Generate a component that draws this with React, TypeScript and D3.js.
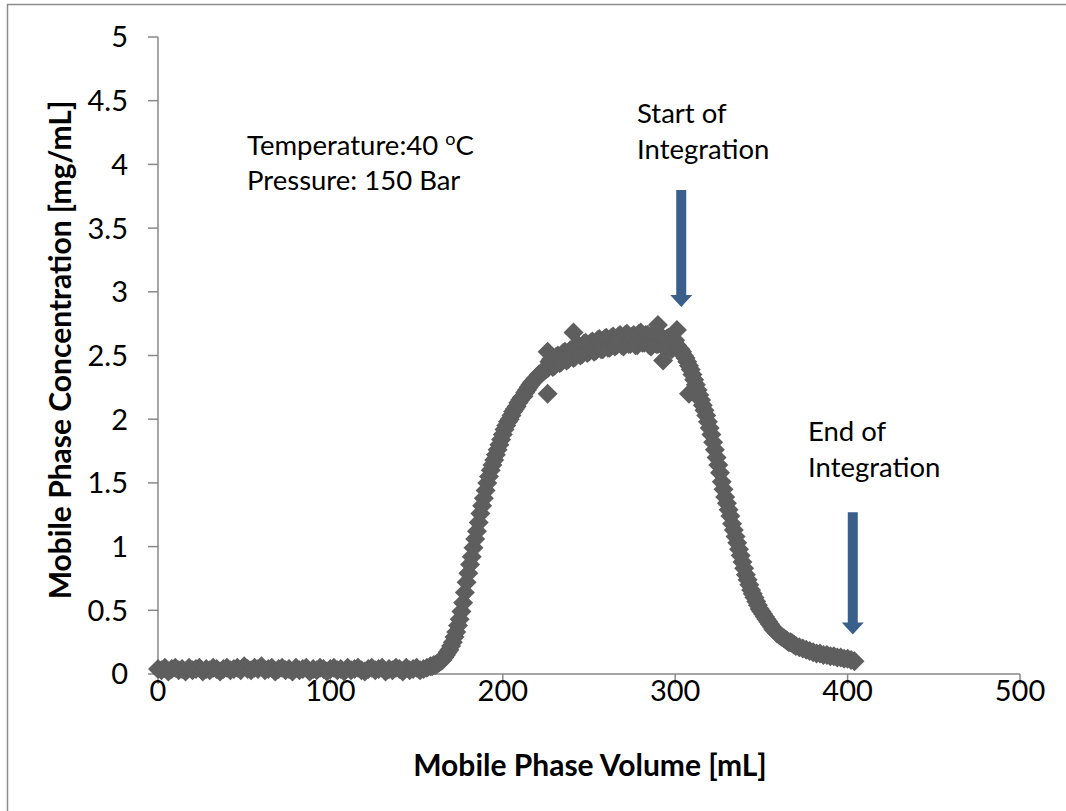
import React from "react";
import * as d3 from "d3";

const VOLUME: number[] = [
  0, 2, 4, 6, 8, 10, 12, 14, 16, 18, 20, 22, 24, 26, 28, 30, 32, 34, 36, 38,
  40, 42, 44, 46, 48, 50, 52, 54, 56, 58, 60, 62, 64, 66, 68, 70, 72, 74, 76, 78,
  80, 82, 84, 86, 88, 90, 92, 94, 96, 98, 100, 102, 104, 106, 108, 110, 112, 114, 116, 118,
  120, 122, 124, 126, 128, 130, 132, 134, 136, 138, 140, 142, 144, 146, 148, 150, 152, 154, 156,
  158, 159, 160, 161, 162, 163, 164, 165, 166, 167, 168, 169, 170, 171, 172, 173, 174, 175, 176, 177,
  178, 179, 180, 181, 182, 183, 184, 185, 186, 187, 188, 189, 190, 191, 192, 193, 194, 195, 196, 197,
  198, 199, 200, 201, 202, 203, 204, 205, 206, 207, 208, 209, 210, 211, 212, 213, 214, 215, 216, 217,
  218, 219, 220, 221, 222, 223, 224, 225, 226, 227, 228, 229, 230, 231, 232, 233, 234, 235, 236, 237,
  238, 239, 240, 241, 242, 243, 244, 245, 246, 247, 248, 249, 250, 251, 252, 253, 254, 255, 256, 257,
  258, 259, 260, 261, 262, 263, 264, 265, 266, 267, 268, 269, 270, 271, 272, 273, 274, 275, 276, 277,
  278, 279, 280, 281, 282, 283, 284, 285, 286, 287, 288, 289, 290, 291, 292, 293, 294, 295, 296, 297,
  298, 299, 300, 301, 302, 303, 304, 305, 306, 307, 308, 309, 310, 311, 312, 313, 314, 315, 316, 317,
  318, 319, 320, 321, 322, 323, 324, 325, 326, 327, 328, 329, 330, 331, 332, 333, 334, 335, 336, 337,
  338, 339, 340, 341, 342, 343, 344, 345, 346, 347, 348, 349, 350, 351, 352, 353, 354, 355, 356, 357,
  358, 359, 360, 361, 362, 363, 364, 365, 366, 367, 368, 369, 370,
  372, 374, 376, 378, 380, 382, 384, 386, 388, 390, 392, 394, 396, 398, 400, 402, 404,
];

const CONCENTRATION: number[] = [
  0.04, 0.03, 0.05, 0.02, 0.04, 0.05, 0.03, 0.04, 0.02, 0.05,
  0.03, 0.04, 0.05, 0.02, 0.04, 0.03, 0.05, 0.04, 0.02, 0.04,
  0.05, 0.03, 0.04, 0.05, 0.03, 0.06, 0.04, 0.03, 0.05, 0.04,
  0.06, 0.03, 0.04, 0.05, 0.02, 0.04, 0.05, 0.03, 0.04, 0.02,
  0.05, 0.03, 0.04, 0.05, 0.02, 0.04, 0.03, 0.05, 0.04, 0.02,
  0.04, 0.05, 0.03, 0.04, 0.02, 0.05, 0.03, 0.04, 0.05, 0.03,
  0.02, 0.04, 0.05, 0.03, 0.04, 0.05, 0.02, 0.04, 0.03, 0.05,
  0.04, 0.02, 0.05, 0.03, 0.04, 0.05, 0.03, 0.04, 0.05,
  0.06, 0.06, 0.07, 0.07, 0.08, 0.09, 0.10, 0.11, 0.13, 0.15, 0.17, 0.19, 0.22, 0.25, 0.29, 0.33, 0.38, 0.43, 0.49, 0.56,
  0.64, 0.72, 0.79, 0.86, 0.92, 0.99, 1.06, 1.12, 1.19, 1.26, 1.32, 1.38, 1.44, 1.50, 1.55, 1.60, 1.64, 1.68, 1.72, 1.76,
  1.80, 1.84, 1.88, 1.92, 1.95, 1.98, 2.00, 2.03, 2.06, 2.08, 2.10, 2.13, 2.15, 2.17, 2.18, 2.21, 2.23, 2.25, 2.27, 2.29,
  2.30, 2.32, 2.33, 2.35, 2.36, 2.37, 2.38, 2.39, 2.40, 2.45, 2.47, 2.41, 2.42, 2.49, 2.50, 2.44, 2.45, 2.52, 2.53, 2.46,
  2.47, 2.54, 2.55, 2.48, 2.49, 2.57, 2.58, 2.50, 2.51, 2.59, 2.60, 2.52, 2.53, 2.60, 2.61, 2.53, 2.54, 2.62, 2.63, 2.55,
  2.55, 2.63, 2.64, 2.56, 2.56, 2.64, 2.65, 2.57, 2.58, 2.65, 2.66, 2.58, 2.57, 2.66, 2.67, 2.59, 2.59, 2.65, 2.66, 2.58,
  2.58, 2.67, 2.68, 2.60, 2.60, 2.66, 2.66, 2.58, 2.57, 2.66, 2.67, 2.59, 2.59, 2.65, 2.65, 2.57, 2.56, 2.63, 2.64, 2.56,
  2.55, 2.61, 2.62, 2.58, 2.55, 2.55, 2.53, 2.50, 2.48, 2.45, 2.42, 2.39, 2.35, 2.31, 2.27, 2.23, 2.19, 2.15, 2.11, 2.07,
  2.03, 1.98, 1.93, 1.88, 1.82, 1.76, 1.70, 1.64, 1.58, 1.51, 1.45, 1.39, 1.34, 1.29, 1.24, 1.18, 1.13, 1.08, 1.03, 0.98,
  0.93, 0.88, 0.83, 0.78, 0.74, 0.70, 0.66, 0.63, 0.60, 0.57, 0.54, 0.51, 0.49, 0.47, 0.45, 0.43, 0.41, 0.39, 0.37, 0.35,
  0.34, 0.32, 0.31, 0.30, 0.29, 0.28, 0.27, 0.26, 0.25, 0.25, 0.24, 0.23, 0.22,
  0.21, 0.20, 0.19, 0.18, 0.17, 0.16, 0.16, 0.15, 0.15, 0.14, 0.14, 0.13, 0.13, 0.12, 0.12, 0.11, 0.10,
];

const OUTLIER_VOLUME: number[] = [226, 226, 241, 290, 293, 301, 308];
const OUTLIER_CONCENTRATION: number[] = [2.53, 2.2, 2.68, 2.74, 2.46, 2.7, 2.2];

const X_TICKS: number[] = [0, 100, 200, 300, 400, 500];
const Y_TICKS: number[] = [0, 0.5, 1, 1.5, 2, 2.5, 3, 3.5, 4, 4.5, 5];

const ARROWS = [
  { x: 303.5, yTop: 3.8, yTip: 2.88 },
  { x: 403, yTop: 1.27, yTip: 0.31 },
];

const FONT = "Lato, 'Open Sans', sans-serif";

export default function App() {
  const W = 1066;
  const H = 811;
  const left = 158;
  const right = 1020;
  const top = 37;
  const bottom = 674;

  const x = d3.scaleLinear().domain([0, 500]).range([left, right]);
  const y = d3.scaleLinear().domain([0, 5]).range([bottom, top]);

  const n = Math.min(VOLUME.length, CONCENTRATION.length);
  const points = VOLUME.slice(0, n)
    .map((v, i) => ({ v, c: CONCENTRATION[i] }))
    .concat(OUTLIER_VOLUME.map((v, i) => ({ v, c: OUTLIER_CONCENTRATION[i] })));

  const r = 10;
  const diamondPath = `M0,${-r}L${r},0L0,${r}L${-r},0Z`;

  const arrowColor = "#3A5F8B";
  const axisColor = "#898989";

  return (
    <svg
      width={W}
      height={H}
      style={{ position: "absolute", left: 0, top: 0, background: "#fff" }}
      fontFamily={FONT}
    >
      <rect x={0} y={0} width={W} height={H} fill="#fff" />
      <path d={`M7.5,${H + 5}V4.5H${W + 5}`} fill="none" stroke="#8c8c8c" strokeWidth={1.5} />

      <line x1={left} x2={left} y1={top} y2={bottom} stroke={axisColor} strokeWidth={1.5} />
      <line x1={left} x2={right} y1={bottom} y2={bottom} stroke={axisColor} strokeWidth={1.5} />
      {Y_TICKS.map((t) => (
        <g key={"y" + t}>
          <line x1={left - 10} x2={left} y1={y(t)} y2={y(t)} stroke={axisColor} strokeWidth={1.5} />
          <text x={128} y={y(t)} dy="0.36em" textAnchor="end" fontSize={29} fill="#000">
            {t}
          </text>
        </g>
      ))}
      {X_TICKS.map((t) => (
        <g key={"x" + t}>
          <line x1={x(t)} x2={x(t)} y1={bottom} y2={bottom + 10} stroke={axisColor} strokeWidth={1.5} />
          <text x={x(t)} y={bottom + 27} textAnchor="middle" fontSize={29} fill="#000">
            {t}
          </text>
        </g>
      ))}

      {points.map((p, i) => (
        <path
          key={i}
          d={diamondPath}
          transform={`translate(${x(p.v)},${y(p.c)})`}
          fill="#5e5e5e"
        />
      ))}

      <text x={590} y={776} textAnchor="middle" fontSize={30} fontWeight="bold" fill="#000">
        Mobile Phase Volume [mL]
      </text>
      <text
        transform="translate(71,350) rotate(-90)"
        textAnchor="middle"
        fontSize={30}
        fontWeight="bold"
        fill="#000"
      >
        Mobile Phase Concentration [mg/mL]
      </text>

      <text x={247} y={155} fontSize={27.5} fill="#000">
        Temperature:40 <tspan dy={-10} fontSize={18}>o</tspan>
        <tspan dy={10}>C</tspan>
      </text>
      <text x={247} y={190} fontSize={27.5} fill="#000">
        Pressure: 150 Bar
      </text>
      <text x={637} y={123} fontSize={27.5} fill="#000">Start of</text>
      <text x={637} y={159} fontSize={27.5} fill="#000">Integration</text>
      <text x={808} y={441} fontSize={27.5} fill="#000">End of</text>
      <text x={808} y={477} fontSize={27.5} fill="#000">Integration</text>

      {ARROWS.map((a, i) => {
        const cx = x(a.x);
        const y0 = y(a.yTop);
        const y1 = y(a.yTip);
        const hw = 5;
        const hh = 11;
        const head = 12;
        return (
          <path
            key={i}
            d={`M${cx - hw},${y0}H${cx + hw}V${y1 - head}H${cx + hh}L${cx},${y1}L${cx - hh},${y1 - head}H${cx - hw}Z`}
            fill={arrowColor}
          />
        );
      })}
    </svg>
  );
}
